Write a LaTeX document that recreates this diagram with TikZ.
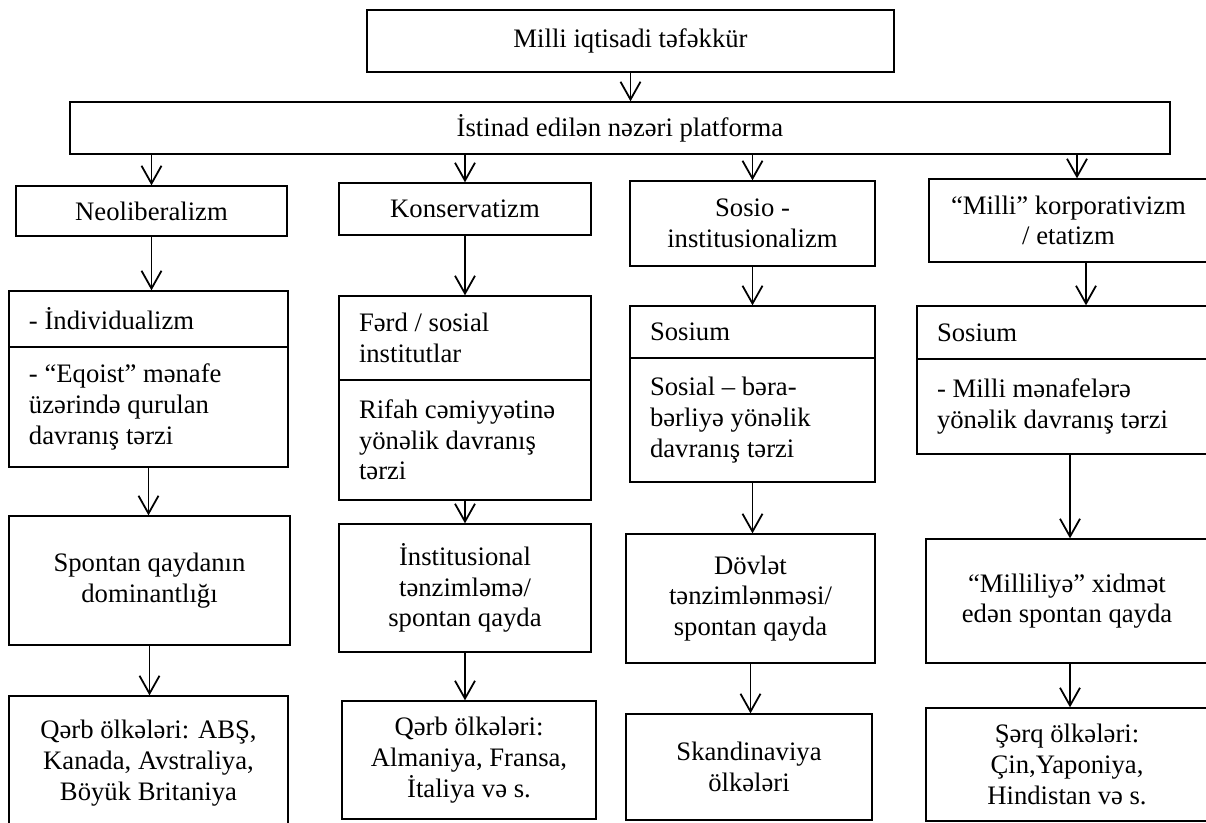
\documentclass[tikz,border=0pt]{standalone}
\usepackage{fontspec}
\setmainfont{Liberation Serif}
\usetikzlibrary{arrows.meta}

\begin{document}
\begin{tikzpicture}[x=0.45pt, y=-0.45pt, font=\fontsize{12}{13.8}\selectfont,
    box/.style={draw, line width=0.6pt, inner xsep=9pt, inner ysep=2pt, align=flush center},
    lbox/.style={box, align=flush left, text width=#1},
    arr/.style={line width=0.8pt, -{Straight Barb[length=8pt, width=9pt]}}]
  \useasboundingbox (0,0) rectangle (1206,822);
  \clip (0,0) rectangle (1206,822);
  % top levels
  \node[box, minimum width=237.15pt, minimum height=27.9pt] (top) at (630.5,41) {Milli iqtisadi təfəkkür};
  \node[box, minimum width=495pt, minimum height=23.4pt] (plat) at (620,128) {İstinad edilən nəzəri platforma};
  % column 1
  \node[box, minimum width=121.95pt, minimum height=22.5pt] (neo) at (151.5,211) {Neoliberalizm};
  \node[lbox=107.55pt, minimum height=25.2pt] (ind) at (148.5,319) {- İndividualizm};
  \node[lbox=107.55pt, minimum height=54pt] (eqo) at (148.5,407) {- “Eqoist” mənafe\\üzərində qurulan\\davranış tərzi};
  \node[box, minimum width=126.45pt, minimum height=58.05pt] (spo) at (149.5,580.5) {Spontan qaydanın\\dominantlığı};
  \node[box, minimum width=125.55pt, minimum height=60.3pt] (qerb1) at (148.5,763) {Qərb ölkələri: ABŞ,\\Kanada, Avstraliya,\\Böyük Britaniya};
  % column 2
  \node[box, minimum width=113.4pt, minimum height=23.4pt] (kon) at (465,209) {Konservatizm};
  \node[lbox=95.4pt, minimum height=37.8pt] (ferd) at (465,338) {Fərd / sosial\\institutlar};
  \node[lbox=95.4pt, minimum height=54pt] (rif) at (465,440) {Rifah cəmiyyətinə\\yönəlik davranış\\tərzi};
  \node[box, minimum width=113.4pt, minimum height=57.6pt] (ins) at (465,588) {İnstitusional\\tənzimləmə/\\spontan qayda};
  \node[box, minimum width=114.3pt, minimum height=53.1pt] (qerb2) at (469,760) {Qərb ölkələri:\\Almaniya, Fransa,\\İtaliya və s.};
  % column 3
  \node[box, minimum width=110.25pt, minimum height=38.25pt] (sos) at (752.5,223.5) {Sosio -\\institusionalizm};
  \node[lbox=92.25pt, minimum height=23.4pt] (sosium1) at (752.5,332) {Sosium};
  \node[lbox=92.25pt, minimum height=55.8pt] (sosial) at (752.5,420) {Sosial – bəra-\\bərliyə yönəlik\\davranış tərzi};
  \node[box, minimum width=112.05pt, minimum height=58.05pt] (dov) at (750.5,598.5) {Dövlət\\tənzimlənməsi/\\spontan qayda};
  \node[box, minimum width=110.7pt, minimum height=47.7pt] (skan) at (749,767) {Skandinaviya\\ölkələri};
  % column 4
  \node[box, minimum width=125.55pt, minimum height=37.35pt] (mil) at (1068.5,220.5) {“Milli” korporativizm\\/ etatizm};
  \node[lbox=112.95pt, minimum height=23.85pt] (sosium2) at (1062.5,332.5) {Sosium};
  \node[lbox=112.95pt, minimum height=42.75pt] (milmen) at (1062.5,406.5) {- Milli mənafelərə\\yönəlik davranış tərzi};
  \node[box, minimum width=126.9pt, minimum height=55.8pt] (milliliye) at (1067,601) {“Milliliyə” xidmət\\edən spontan qayda};
  \node[box, minimum width=126.9pt, minimum height=50.85pt] (serq) at (1067,764.5) {Şərq ölkələri:\\Çin,Yaponiya,\\Hindistan və s.};
  \coordinate (c4p) at (1077,0);
  \coordinate (c4a) at (1086,0);
  \coordinate (c4b) at (1070,0);
  % arrows
  \draw[arr] (top.south) -- (top.south |- plat.north);
  \draw[arr] (plat.south -| neo.north) -- (neo.north);
  \draw[arr] (plat.south -| kon.north) -- (kon.north);
  \draw[arr] (plat.south -| sos.north) -- (sos.north);
  \draw[arr] (plat.south -| c4p) -- (mil.north -| c4p);
  \draw[arr] (neo.south) -- (neo.south |- ind.north);
  \draw[arr] (eqo.south) -- (eqo.south |- spo.north);
  \draw[arr] (spo.south) -- (spo.south |- qerb1.north);
  \draw[arr] (kon.south) -- (kon.south |- ferd.north);
  \draw[arr] (rif.south) -- (rif.south |- ins.north);
  \draw[arr] (ins.south) -- (ins.south |- qerb2.north);
  \draw[arr] (sos.south) -- (sos.south |- sosium1.north);
  \draw[arr] (sosial.south) -- (sosial.south |- dov.north);
  \draw[arr] (dov.south) -- (dov.south |- skan.north);
  \draw[arr] (mil.south -| c4a) -- (sosium2.north -| c4a);
  \draw[arr] (milmen.south -| c4b) -- (milliliye.north -| c4b);
  \draw[arr] (milliliye.south -| c4b) -- (serq.north -| c4b);
\end{tikzpicture}
\end{document}
